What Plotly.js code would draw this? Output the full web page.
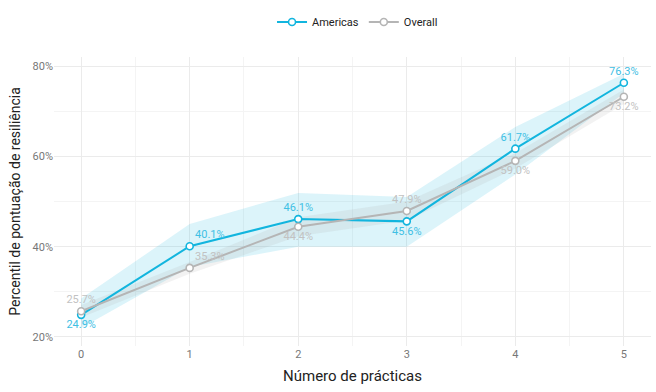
<!DOCTYPE html>
<html><head><meta charset="utf-8">
<script src="https://cdn.plot.ly/plotly-3.0.1.min.js"></script>
<style>body{margin:0;background:#fff}#c{width:656px;height:392px}</style>
</head><body><div id="c"></div>
<script>
const practices = [0, 1, 2, 3, 4, 5];
const americas = [24.9, 40.1, 46.1, 45.6, 61.7, 76.3];
const americasLow = [22.0, 35.5, 40.0, 40.0, 56.0, 74.0];
const americasHigh = [28.5, 45.0, 51.9, 51.0, 66.5, 78.3];
const overall = [25.7, 35.3, 44.4, 47.9, 59.0, 73.2];
const overallLow = [24.3, 34.0, 42.3, 45.8, 57.3, 71.6];
const overallHigh = [27.1, 36.6, 46.5, 50.0, 60.7, 74.8];
const yTicks = [20, 40, 60, 80];
const yTickLabels = ['20%', '40%', '60%', '80%'];
const americasPos = ['bottom center','top right','top center','bottom center','top center','top center'];
const overallPos = ['top center','top right','bottom center','top center','bottom center','bottom center'];

const blue = '#12b5de', gray = '#b5b5b5';
const fmt = a => a.map(v => v.toFixed(1) + '%');

function ribbon(lo, hi, color) {
  return [
    {x: practices, y: lo, mode: 'lines', line: {width: 0}, showlegend: false, hoverinfo: 'skip'},
    {x: practices, y: hi, mode: 'lines', line: {width: 0}, fill: 'tonexty', fillcolor: color, showlegend: false, hoverinfo: 'skip'}
  ];
}

const traces = [
  ...ribbon(americasLow, americasHigh, 'rgba(18,181,222,0.15)'),
  ...ribbon(overallLow, overallHigh, 'rgba(170,170,170,0.15)'),
  {x: practices, y: americas, name: 'Americas', mode: 'lines+markers',
   line: {color: blue, width: 2}, marker: {symbol: 'circle', size: 7, color: '#fff', line: {color: blue, width: 1.6}}},
  {x: practices, y: overall, name: 'Overall', mode: 'lines+markers',
   line: {color: gray, width: 2}, marker: {symbol: 'circle', size: 7, color: '#fff', line: {color: gray, width: 1.6}}},
  {x: practices, y: americas, mode: 'markers+text', text: fmt(americas), textposition: americasPos,
   marker: {size: 7, opacity: 0},
   textfont: {color: '#3fc0e4', size: 11, family: 'Roboto'}, showlegend: false, hoverinfo: 'skip'},
  {x: practices, y: overall, mode: 'markers+text', text: fmt(overall), textposition: overallPos,
   marker: {size: 7, opacity: 0},
   textfont: {color: '#c2c2c2', size: 11, family: 'Roboto'}, showlegend: false, hoverinfo: 'skip'}
];

const layout = {
  width: 656, height: 392,
  margin: {l: 54, r: 5, t: 57, b: 46},
  paper_bgcolor: '#fff', plot_bgcolor: '#fff',
  font: {family: 'Roboto', color: '#333'},
  showlegend: true,
  legend: {orientation: 'h', traceorder: 'normal', x: 0.545, xanchor: 'center', xref: 'container',
           y: 0.944, yanchor: 'middle', yref: 'container', itemwidth: 30,
           font: {size: 11, color: '#222'}},
  xaxis: {range: [-0.25, 5.25], dtick: 1, tick0: 0, showgrid: true, gridcolor: '#ebebeb', gridwidth: 1,
          minor: {dtick: 0.5, showgrid: true, gridcolor: '#f4f4f4'},
          zeroline: false, showline: false, ticks: '',
          tickfont: {size: 11, color: '#777'},
          title: {text: 'Número de prácticas', font: {size: 15, color: '#222'}, standoff: 10}},
  yaxis: {range: [18, 82], tickmode: 'array', tickvals: yTicks, ticktext: yTickLabels, showgrid: true, gridcolor: '#ebebeb',
          minor: {tickvals: [30, 50, 70], showgrid: true, gridcolor: '#f4f4f4'},
          zeroline: false, showline: false, ticks: '',
          tickfont: {size: 11, color: '#777'},
          title: {text: 'Percentil de pontuação de resiliência', font: {size: 14, color: '#222'}, standoff: 8}}
};
Plotly.newPlot('c', traces, layout, {displayModeBar: false, staticPlot: true});
</script></body></html>
